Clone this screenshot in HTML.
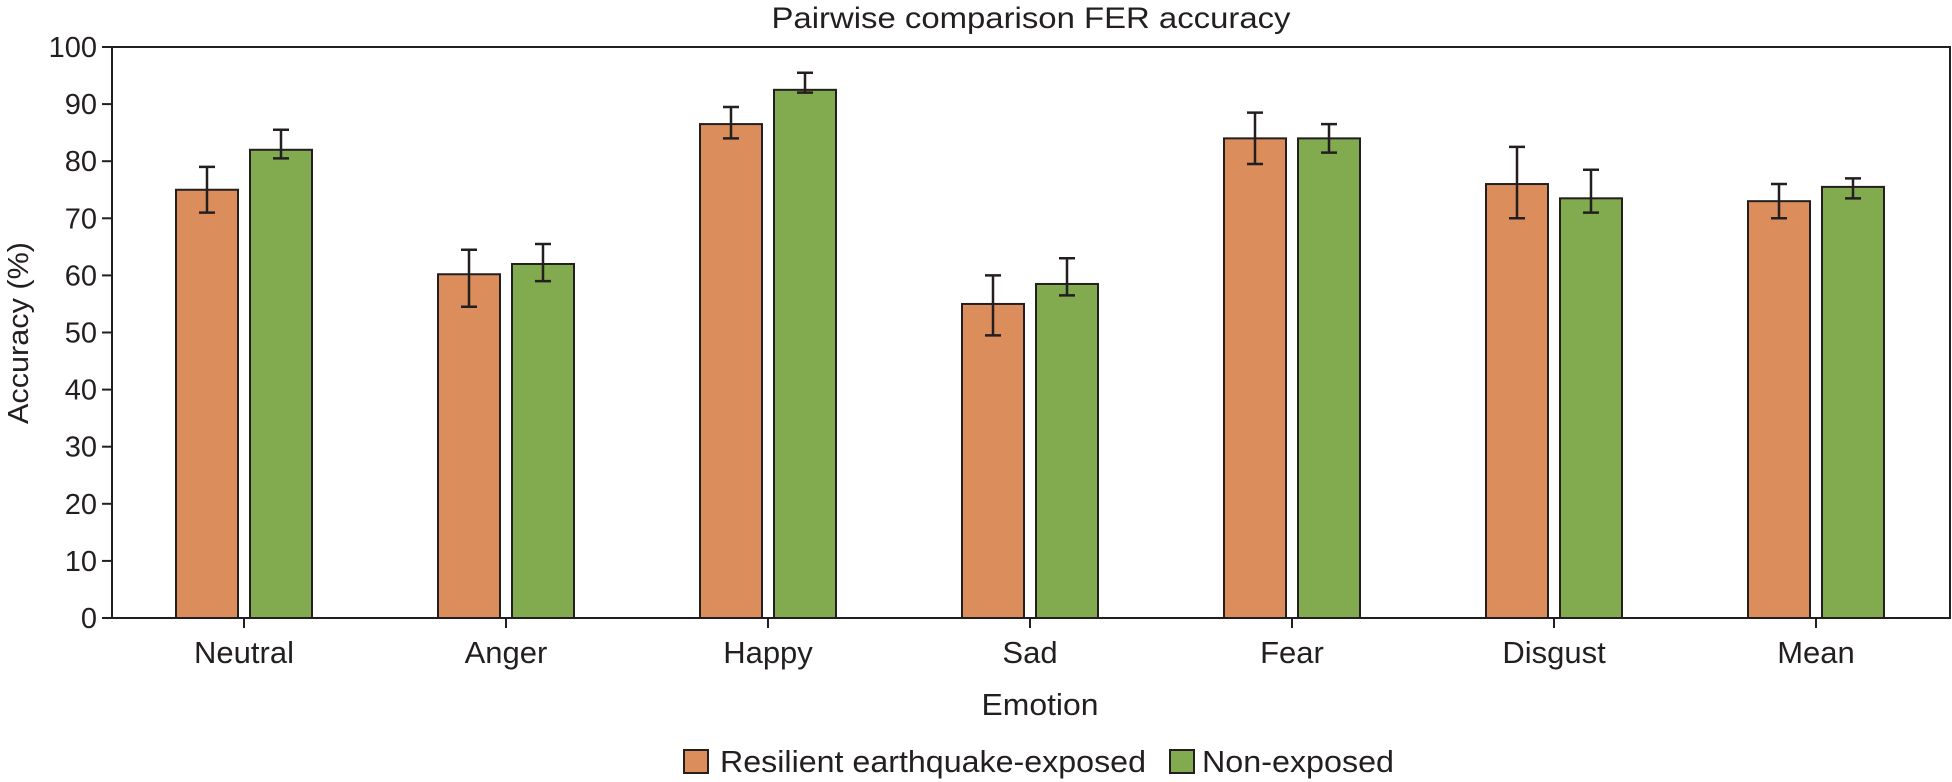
<!DOCTYPE html>
<html><head><meta charset="utf-8"><style>
html,body{margin:0;padding:0;background:#fff;}
svg{display:block;font-family:"Liberation Sans",sans-serif;fill:#231f20;}
</style></head><body>
<svg id="chart" width="1952" height="782" viewBox="0 0 1952 782">
<text x="1031" y="28" font-size="30" text-anchor="middle" textLength="519" lengthAdjust="spacingAndGlyphs">Pairwise comparison FER accuracy</text>
<text transform="translate(28,333) rotate(-90)" font-size="29" text-anchor="middle" textLength="182" lengthAdjust="spacingAndGlyphs">Accuracy (%)</text>
<text x="1040" y="715" font-size="31" text-anchor="middle" textLength="117" lengthAdjust="spacingAndGlyphs">Emotion</text>
<g id="grid"></g>
<g>
<g><rect x="684" y="750" width="24" height="23" fill="#db8e5b" stroke="#231f20" stroke-width="2"/><text x="720" y="772" font-size="31" textLength="426" lengthAdjust="spacingAndGlyphs">Resilient earthquake-exposed</text></g>
<g><rect x="1170" y="750" width="24" height="23" fill="#82aa4e" stroke="#231f20" stroke-width="2"/><text x="1202" y="772" font-size="31" textLength="192" lengthAdjust="spacingAndGlyphs">Non-exposed</text></g>
</g>
</svg>
<script>
const categories=["Neutral","Anger","Happy","Sad","Fear","Disgust","Mean"];
const resilient=[75,60.2,86.5,55,84,76,73];
const resilientLow=[71,54.5,84,49.5,79.5,70,70];
const resilientHigh=[79,64.5,89.5,60,88.5,82.5,76];
const nonExposed=[82,62,92.5,58.5,84,73.5,75.5];
const nonExposedLow=[80.5,59,92,56.5,81.5,71,73.5];
const nonExposedHigh=[85.5,65.5,95.5,63,86.5,78.5,77];
const yTicks=[0,10,20,30,40,50,60,70,80,90,100];

const NS="http://www.w3.org/2000/svg";
const L=112,R=1950,T=47,B=618;
const y=v=>B-(v/100)*(B-T);
const cx=i=>244+i*262;
const BW=62,GAP=12;
const g=document.getElementById('grid');
function mk(t,a,p){const e=document.createElementNS(NS,t);for(const k in a)e.setAttribute(k,a[k]);(p||g).appendChild(e);return e;}
const frame=mk('rect',{x:L,y:T,width:R-L,height:B-T,fill:'none',stroke:'#231f20','stroke-width':2});


yTicks.forEach(v=>{
  const t=mk('line',{x1:L-10,x2:L,y1:y(v),y2:y(v),stroke:'#231f20','stroke-width':2});
  
  
  const tx=mk('text',{x:L-15,y:y(v)+10,'font-size':29,'text-anchor':'end'});
  tx.textContent=v;
  
  
});
function bar(x,v,lo,hi,color,name){
  const r=mk('rect',{x:x,y:y(v),width:BW,height:B-y(v),fill:color,stroke:'#231f20','stroke-width':2});
  
  
  const m=x+BW/2;
  const e=mk('path',{d:`M${m} ${y(lo)}V${y(hi)}M${m-8} ${y(lo)}H${m+8}M${m-8} ${y(hi)}H${m+8}`,stroke:'#231f20','stroke-width':2.5,fill:'none'});
  
  
}
categories.forEach((c,i)=>{
  const k=c.toLowerCase();
  bar(cx(i)-GAP/2-BW,resilient[i],resilientLow[i],resilientHigh[i],'#db8e5b','bar-resilient-'+k);
  bar(cx(i)+GAP/2,nonExposed[i],nonExposedLow[i],nonExposedHigh[i],'#82aa4e','bar-non-exposed-'+k);
  const tk=mk('line',{x1:cx(i),x2:cx(i),y1:B,y2:B+10,stroke:'#231f20','stroke-width':2});
  
  
  const t=mk('text',{x:cx(i),y:663,'font-size':31,'text-anchor':'middle'});
  t.textContent=c;
  
  
});
</script>
</body></html>
